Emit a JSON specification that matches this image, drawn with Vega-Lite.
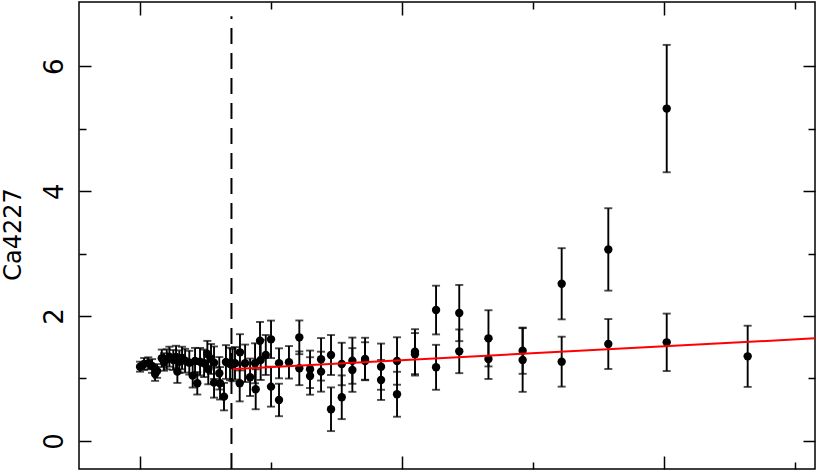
{
  "$schema": "https://vega.github.io/schema/vega-lite/v6.json",
  "width": 736,
  "height": 467,
  "autosize": "none",
  "padding": {"left": 79, "top": 2, "right": 2, "bottom": 3},
  "background": "white",
  "config": {
    "view": {"stroke": "black", "strokeWidth": 1.5},
    "axis": {"domain": false, "grid": false, "tickColor": "black", "tickWidth": 1.5, "labelColor": "black", "titleColor": "black", "labelFlush": false, "labelOverlap": false}
  },
  "datasets": {
    "obs": [
      {"x": 0.000, "y": 1.189, "lo": 1.109, "hi": 1.269},
      {"x": 0.031, "y": 1.232, "lo": 1.136, "hi": 1.328},
      {"x": 0.063, "y": 1.243, "lo": 1.147, "hi": 1.339},
      {"x": 0.092, "y": 1.200, "lo": 1.090, "hi": 1.310},
      {"x": 0.115, "y": 1.072, "lo": 0.962, "hi": 1.182},
      {"x": 0.130, "y": 1.120, "lo": 1.010, "hi": 1.230},
      {"x": 0.166, "y": 1.323, "lo": 1.183, "hi": 1.463},
      {"x": 0.183, "y": 1.264, "lo": 1.124, "hi": 1.404},
      {"x": 0.204, "y": 1.307, "lo": 1.147, "hi": 1.467},
      {"x": 0.224, "y": 1.349, "lo": 1.189, "hi": 1.509},
      {"x": 0.254, "y": 1.296, "lo": 1.136, "hi": 1.456},
      {"x": 0.275, "y": 1.344, "lo": 1.164, "hi": 1.524},
      {"x": 0.285, "y": 1.109, "lo": 0.929, "hi": 1.289},
      {"x": 0.300, "y": 1.269, "lo": 1.089, "hi": 1.449},
      {"x": 0.321, "y": 1.328, "lo": 1.148, "hi": 1.508},
      {"x": 0.344, "y": 1.285, "lo": 1.095, "hi": 1.475},
      {"x": 0.376, "y": 1.253, "lo": 1.063, "hi": 1.443},
      {"x": 0.402, "y": 1.045, "lo": 0.855, "hi": 1.235},
      {"x": 0.420, "y": 1.280, "lo": 1.070, "hi": 1.490},
      {"x": 0.437, "y": 0.923, "lo": 0.743, "hi": 1.103},
      {"x": 0.458, "y": 1.269, "lo": 1.049, "hi": 1.489},
      {"x": 0.489, "y": 1.243, "lo": 1.023, "hi": 1.463},
      {"x": 0.514, "y": 1.392, "lo": 1.182, "hi": 1.602},
      {"x": 0.521, "y": 1.147, "lo": 0.907, "hi": 1.387},
      {"x": 0.542, "y": 1.312, "lo": 1.072, "hi": 1.552},
      {"x": 0.565, "y": 1.253, "lo": 0.993, "hi": 1.513},
      {"x": 0.565, "y": 0.933, "lo": 0.693, "hi": 1.173},
      {"x": 0.605, "y": 1.083, "lo": 0.823, "hi": 1.343},
      {"x": 0.611, "y": 0.923, "lo": 0.663, "hi": 1.183},
      {"x": 0.641, "y": 0.709, "lo": 0.489, "hi": 0.929},
      {"x": 0.656, "y": 1.264, "lo": 0.994, "hi": 1.534},
      {"x": 0.687, "y": 1.232, "lo": 0.972, "hi": 1.492},
      {"x": 0.706, "y": 1.216, "lo": 0.956, "hi": 1.476},
      {"x": 0.725, "y": 1.243, "lo": 0.983, "hi": 1.503},
      {"x": 0.763, "y": 1.419, "lo": 1.129, "hi": 1.709},
      {"x": 0.761, "y": 0.923, "lo": 0.633, "hi": 1.213},
      {"x": 0.802, "y": 1.243, "lo": 0.943, "hi": 1.543},
      {"x": 0.840, "y": 1.019, "lo": 0.719, "hi": 1.319},
      {"x": 0.878, "y": 1.243, "lo": 0.923, "hi": 1.563},
      {"x": 0.883, "y": 0.827, "lo": 0.507, "hi": 1.147},
      {"x": 0.916, "y": 1.605, "lo": 1.305, "hi": 1.905},
      {"x": 0.921, "y": 1.296, "lo": 0.976, "hi": 1.616},
      {"x": 0.960, "y": 1.376, "lo": 1.056, "hi": 1.696},
      {"x": 1.000, "y": 1.627, "lo": 1.327, "hi": 1.927},
      {"x": 1.000, "y": 0.869, "lo": 0.549, "hi": 1.189},
      {"x": 1.061, "y": 1.243, "lo": 1.003, "hi": 1.483},
      {"x": 1.061, "y": 0.656, "lo": 0.396, "hi": 0.916},
      {"x": 1.137, "y": 1.259, "lo": 0.999, "hi": 1.519},
      {"x": 1.216, "y": 1.659, "lo": 1.389, "hi": 1.929},
      {"x": 1.216, "y": 1.163, "lo": 0.893, "hi": 1.433},
      {"x": 1.298, "y": 1.147, "lo": 0.847, "hi": 1.447},
      {"x": 1.298, "y": 1.040, "lo": 0.740, "hi": 1.340},
      {"x": 1.382, "y": 1.307, "lo": 0.967, "hi": 1.647},
      {"x": 1.382, "y": 1.109, "lo": 0.789, "hi": 1.429},
      {"x": 1.458, "y": 1.376, "lo": 1.056, "hi": 1.696},
      {"x": 1.458, "y": 0.507, "lo": 0.157, "hi": 0.857},
      {"x": 1.540, "y": 1.232, "lo": 0.892, "hi": 1.572},
      {"x": 1.540, "y": 0.699, "lo": 0.349, "hi": 1.049},
      {"x": 1.621, "y": 1.285, "lo": 0.915, "hi": 1.655},
      {"x": 1.621, "y": 1.136, "lo": 0.786, "hi": 1.486},
      {"x": 1.718, "y": 1.312, "lo": 0.972, "hi": 1.652},
      {"x": 1.718, "y": 1.280, "lo": 0.980, "hi": 1.580},
      {"x": 1.840, "y": 1.189, "lo": 0.819, "hi": 1.559},
      {"x": 1.840, "y": 0.976, "lo": 0.656, "hi": 1.296},
      {"x": 1.962, "y": 1.280, "lo": 0.900, "hi": 1.660},
      {"x": 1.962, "y": 0.747, "lo": 0.387, "hi": 1.107},
      {"x": 2.099, "y": 1.429, "lo": 1.069, "hi": 1.789},
      {"x": 2.099, "y": 1.387, "lo": 1.047, "hi": 1.727},
      {"x": 2.260, "y": 2.096, "lo": 1.706, "hi": 2.486},
      {"x": 2.260, "y": 1.179, "lo": 0.819, "hi": 1.539},
      {"x": 2.437, "y": 2.048, "lo": 1.598, "hi": 2.498},
      {"x": 2.437, "y": 1.435, "lo": 1.085, "hi": 1.785},
      {"x": 2.660, "y": 1.643, "lo": 1.193, "hi": 2.093},
      {"x": 2.660, "y": 1.312, "lo": 0.992, "hi": 1.632},
      {"x": 2.921, "y": 1.445, "lo": 1.075, "hi": 1.815},
      {"x": 2.921, "y": 1.296, "lo": 0.786, "hi": 1.806},
      {"x": 3.219, "y": 2.517, "lo": 1.947, "hi": 3.087},
      {"x": 3.219, "y": 1.269, "lo": 0.869, "hi": 1.669},
      {"x": 3.575, "y": 3.067, "lo": 2.407, "hi": 3.727},
      {"x": 3.575, "y": 1.552, "lo": 1.152, "hi": 1.952},
      {"x": 4.021, "y": 5.323, "lo": 4.303, "hi": 6.343},
      {"x": 4.021, "y": 1.579, "lo": 1.119, "hi": 2.039},
      {"x": 4.639, "y": 1.355, "lo": 0.865, "hi": 1.845}
    ],
    "fit": [
      {"x": 0.71, "y": 1.15},
      {"x": 5.153, "y": 1.643}
    ],
    "cut": [
      {"x": 0.698, "y": -0.45, "y2": 6.8}
    ]
  },
  "layer": [
    {
      "data": {"name": "obs"},
      "mark": {"type": "rule", "color": "black", "strokeWidth": 1.9},
      "encoding": {
        "x": {"field": "x", "type": "quantitative", "scale": {"domain": [-0.466, 5.153], "nice": false, "zero": false},
              "axis": {"orient": "bottom", "values": [0, 2, 4], "tickSize": -13, "labels": false, "title": null}},
        "y": {"field": "lo", "type": "quantitative", "scale": {"domain": [-0.45, 7.03], "nice": false, "zero": false},
              "axis": {"orient": "left", "values": [0, 2, 4, 6], "ticks": false, "tickSize": 0, "labelAngle": -90, "labelAlign": "center", "labelBaseline": "alphabetic", "labelPadding": 17, "labelFont": "DejaVu Sans", "labelFontSize": 26, "labelFontWeight": "normal",
                       "title": "Ca4227", "titleFont": "DejaVu Sans", "titleFontSize": 24, "titleFontWeight": "normal", "titleAngle": -90, "titleAlign": "center", "titleBaseline": "alphabetic", "titleX": -59, "titleY": 232}},
        "y2": {"field": "hi"}
      }
    },
    {
      "data": {"name": "obs"},
      "mark": {"type": "tick", "orient": "horizontal", "color": "black", "size": 8, "thickness": 1.9},
      "encoding": {
        "x": {"field": "x", "type": "quantitative", "scale": {"domain": [-0.466, 5.153], "nice": false, "zero": false},
              "axis": {"orient": "bottom", "values": [1, 3, 5], "tickSize": -7, "labels": false, "title": null}},
        "y": {"field": "lo", "type": "quantitative", "scale": {"domain": [-0.45, 7.03], "nice": false, "zero": false},
              "axis": {"orient": "left", "values": [0, 2, 4, 6], "tickSize": -12, "labels": false, "title": null}}
      }
    },
    {
      "data": {"name": "obs"},
      "mark": {"type": "tick", "orient": "horizontal", "color": "black", "size": 8, "thickness": 1.9},
      "encoding": {
        "x": {"field": "x", "type": "quantitative", "scale": {"domain": [-0.466, 5.153], "nice": false, "zero": false},
              "axis": {"orient": "top", "values": [0, 2, 4], "tickSize": -13, "labels": false, "title": null}},
        "y": {"field": "hi", "type": "quantitative", "scale": {"domain": [-0.45, 7.03], "nice": false, "zero": false},
              "axis": {"orient": "left", "values": [1, 3, 5], "tickSize": -7, "labels": false, "title": null}}
      }
    },
    {
      "data": {"name": "obs"},
      "mark": {"type": "circle", "color": "black", "size": 70, "opacity": 1},
      "encoding": {
        "x": {"field": "x", "type": "quantitative", "scale": {"domain": [-0.466, 5.153], "nice": false, "zero": false},
              "axis": {"orient": "top", "values": [1, 3, 5], "tickSize": -7, "labels": false, "title": null}},
        "y": {"field": "y", "type": "quantitative", "scale": {"domain": [-0.45, 7.03], "nice": false, "zero": false},
              "axis": {"orient": "right", "values": [0, 2, 4, 6], "tickSize": -12, "labels": false, "title": null}}
      }
    },
    {
      "data": {"name": "fit"},
      "mark": {"type": "line", "color": "#ff0000", "strokeWidth": 2},
      "encoding": {
        "x": {"field": "x", "type": "quantitative", "scale": {"domain": [-0.466, 5.153], "nice": false, "zero": false}, "axis": null},
        "y": {"field": "y", "type": "quantitative", "scale": {"domain": [-0.45, 7.03], "nice": false, "zero": false},
              "axis": {"orient": "right", "values": [1, 3, 5], "tickSize": -7, "labels": false, "title": null}}
      }
    },
    {
      "data": {"name": "cut"},
      "mark": {"type": "rule", "color": "black", "strokeWidth": 2, "strokeDash": [16, 9]},
      "encoding": {
        "x": {"field": "x", "type": "quantitative", "scale": {"domain": [-0.466, 5.153], "nice": false, "zero": false}, "axis": null},
        "y": {"field": "y", "type": "quantitative", "scale": {"domain": [-0.45, 7.03], "nice": false, "zero": false}, "axis": null},
        "y2": {"field": "y2"}
      }
    }
  ],
  "resolve": {"axis": {"x": "independent", "y": "independent"}}
}
